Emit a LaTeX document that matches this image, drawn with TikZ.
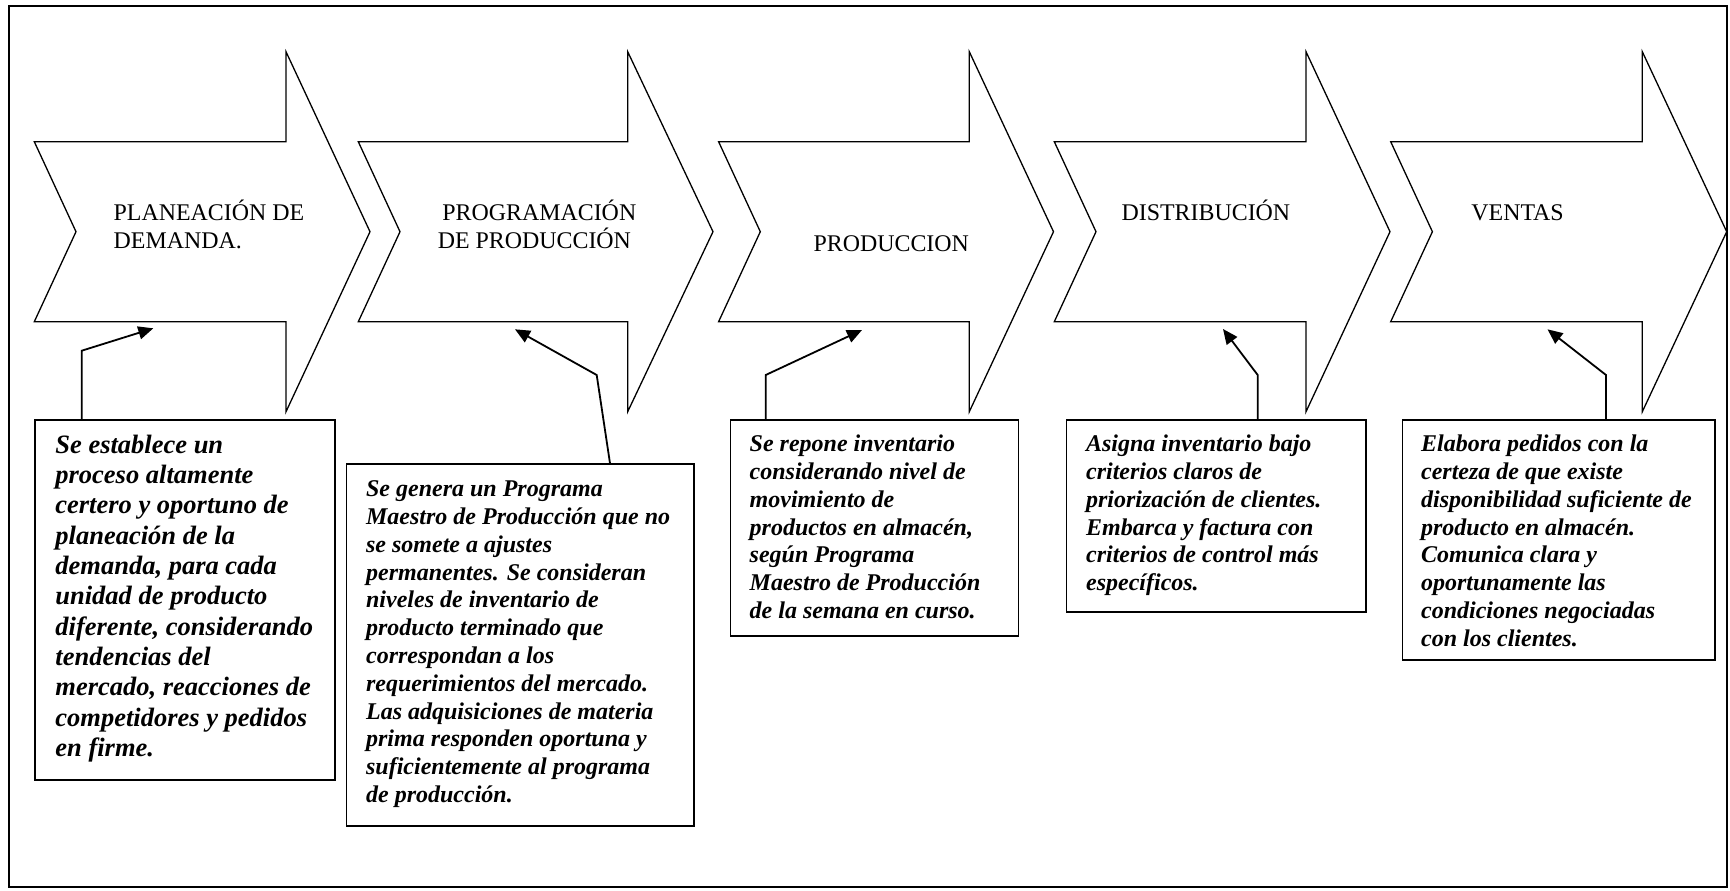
\documentclass[tikz,border=0pt]{standalone}
\usepackage{fontspec}
\setmainfont{Liberation Serif}
\usetikzlibrary{arrows.meta}
% one process arrow: notched tail at #1, head base at #2, point at #3
\newcommand\procarrow[3]{%
  \draw[procshape] (#1,141.7) -- (#1+41.7,231.7) -- (#1,321.7) -- (#2,321.7)
    -- (#2,411.7) -- (#3,231.7) -- (#2,51.7) -- (#2,141.7) -- cycle;}
\begin{document}
\begin{tikzpicture}[x=0.5pt,y=-0.5pt,
  frame/.style={line width=0.7pt},
  procshape/.style={draw, line width=0.65pt, line join=miter},
  steplabel/.style={anchor=base west, inner sep=0pt, align=left,
    font=\fontsize{11.95}{14.15}\selectfont},
  notebox/.style={draw, line width=0.85pt, anchor=north west, inner sep=0pt},
  notetext/.style={anchor=base west, inner sep=0pt, align=left,
    font=\fontsize{12}{13.9}\selectfont\bfseries\itshape},
  bignote/.style={notetext, font=\fontsize{13.25}{15.15}\selectfont\bfseries\itshape},
  conn/.style={line width=0.9pt, -{Triangle[length=7.5pt,width=6.5pt]}}
]
\useasboundingbox (0,0) rectangle (1730,890);

% outer frame
\draw[frame] (9,6) rectangle (1727,887);

% the five process arrows
\procarrow{34.3}{286}{370}
\procarrow{358.3}{627.7}{713}
\procarrow{718.6}{969.3}{1053.5}
\procarrow{1054.3}{1306}{1390}
\procarrow{1390.7}{1642.3}{1726.7}

% arrow labels (placed by the baseline of their last line)
\node[steplabel] (l1) at (113.3,248.3) {PLANEACIÓN DE\\DEMANDA.};
\node[steplabel] (l2) at (437.4,248.3) {\hspace*{2.3pt}PROGRAMACIÓN\\DE PRODUCCIÓN};
\node[steplabel] (l3) at (813.2,251.7) {PRODUCCION};
\node[steplabel] (l4) at (1121.2,220.5) {DISTRIBUCIÓN};
\node[steplabel] (l5) at (1471,220) {VENTAS};

% note boxes
\node[notebox, minimum width=150pt, minimum height=180pt] (b1) at (34.3,419.3) {};
\node[notebox, minimum width=173.65pt, minimum height=180.85pt] (b2) at (345.7,463.3) {};
\node[notebox, minimum width=144pt, minimum height=107.85pt] (b3) at (729.5,419.3) {};
\node[notebox, minimum width=149.65pt, minimum height=95.85pt] (b4) at (1065.7,419.3) {};
\node[notebox, minimum width=156.15pt, minimum height=120pt] (b5) at (1401.7,419.3) {};

% note texts (placed by the baseline of their last line)
\node[bignote] (t1) at (55,756.3) {Se establece un\\proceso altamente\\certero y oportuno de\\planeación de la\\demanda, para cada\\unidad de producto\\diferente, considerando\\tendencias del\\mercado, reacciones de\\competidores y pedidos\\en firme.};
\node[notetext] (t2) at (365.7,802.5) {Se genera un Programa\\Maestro de Producción que no\\se somete a ajustes\\permanentes. Se consideran\\niveles de inventario de\\producto terminado que\\correspondan a los\\requerimientos del mercado.\\Las adquisiciones de materia\\prima responden oportuna y\\suficientemente al programa\\de producción.};
\node[notetext] (t3) at (749.3,618.5) {Se repone inventario\\considerando nivel de\\movimiento de\\productos en almacén,\\según Programa\\Maestro de Producción\\de la semana en curso.};
\node[notetext] (t4) at (1085.7,590.7) {Asigna inventario bajo\\criterios claros de\\priorización de clientes.\\Embarca y factura con\\criterios de control más\\específicos.};
\node[notetext] (t5) at (1420.7,646.3) {Elabora pedidos con la\\certeza de que existe\\disponibilidad suficiente de\\producto en almacén.\\Comunica clara y\\oportunamente las\\condiciones negociadas\\con los clientes.};

% callout connectors: bend points and arrow points
\coordinate (k1) at (81.7,350.7);   \coordinate (p1) at (153.3,328.3);
\coordinate (s2) at (610,463.3);
\coordinate (k2) at (596.7,375);    \coordinate (p2) at (515,329.3);
\coordinate (k3) at (765.7,375);    \coordinate (p3) at (862,330);
\coordinate (k4) at (1257.7,375);   \coordinate (p4) at (1223,329);
\coordinate (k5) at (1606,375);     \coordinate (p5) at (1547.5,329.3);

\draw[conn] (b1.north -| k1) -- (k1) -- (p1);
\draw[conn] (b2.north -| s2) -- (k2) -- (p2);
\draw[conn] (b3.north -| k3) -- (k3) -- (p3);
\draw[conn] (b4.north -| k4) -- (k4) -- (p4);
\draw[conn] (b5.north -| k5) -- (k5) -- (p5);
\end{tikzpicture}
\end{document}
